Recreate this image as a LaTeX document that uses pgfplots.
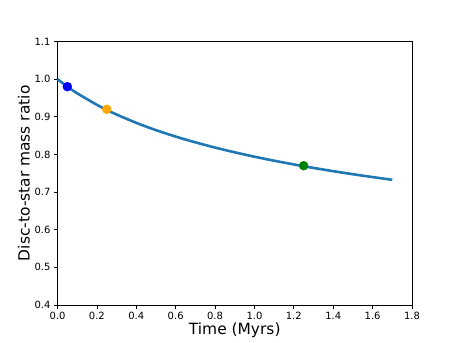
\documentclass[border=0pt]{standalone}
\usepackage{fontspec}
\setmainfont{DejaVu Sans}
\usepackage{pgfplots}
\pgfplotsset{compat=1.18}
\definecolor{mplblue}{RGB}{31,119,180}
\definecolor{mplorange}{RGB}{255,165,0}
\definecolor{mplgreen}{RGB}{0,128,0}

\begin{document}
\begin{tikzpicture}
\begin{axis}[
  name=ax,
  scale only axis,
  width=354.5bp,height=263.5bp,
  xmin=0,xmax=1.8,ymin=0.4,ymax=1.1,
  xtick={0,0.2,...,1.8},ytick={0.4,0.5,...,1.1},
  xticklabel style={/pgf/number format/.cd,fixed,fixed zerofill,precision=1},
  yticklabel style={/pgf/number format/.cd,fixed,fixed zerofill,precision=1},
  /pgf/number format/assume math mode=true,
  tick label style={font=\fontsize{10}{12}\selectfont},
  tick align=outside,tick pos=left,
  major tick length=3.5bp,
  axis line style={black,line width=0.7bp},
  every tick/.style={black,line width=0.7bp},
  xlabel={Time (Myrs)},ylabel={Disc-to-star mass ratio},
  label style={font=\fontsize{15.5}{18}\selectfont},
  xlabel style={yshift=4bp},
  ylabel style={yshift=-2bp},
  clip=false,
]
  \addplot[mplblue,line width=2.6bp,smooth] coordinates {
    (0,1.0) (0.05,0.980) (0.1,0.9624) (0.2,0.9318) (0.25,0.9184) (0.3,0.906)
    (0.4,0.8839) (0.5,0.8645) (0.6,0.8474) (0.7,0.8321) (0.8,0.8182)
    (0.9,0.8056) (1.0,0.794) (1.1,0.7833) (1.2,0.7734) (1.25,0.7686)
    (1.3,0.7641) (1.4,0.7555) (1.5,0.7474) (1.6,0.7398) (1.7,0.7326)};
  \addplot[only marks,mark=*,mark size=4.5bp,draw=blue,fill=blue] coordinates {(0.05,0.98)};
  \addplot[only marks,mark=*,mark size=4.5bp,draw=mplorange,fill=mplorange] coordinates {(0.25,0.92)};
  \addplot[only marks,mark=*,mark size=4.5bp,draw=mplgreen,fill=mplgreen] coordinates {(1.25,0.77)};
\end{axis}
\path[use as bounding box] ([xshift=-57.5bp,yshift=-38bp]ax.south west) rectangle ([xshift=46bp,yshift=41.5bp]ax.north east);
\end{tikzpicture}
\end{document}
